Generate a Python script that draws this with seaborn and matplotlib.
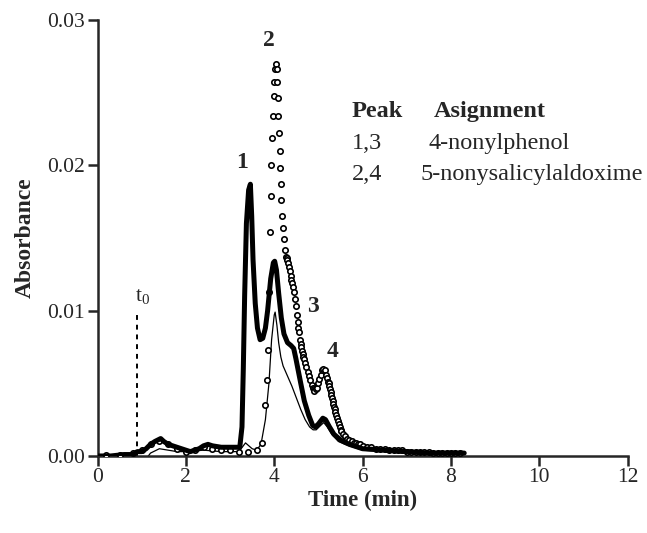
import pandas as pd
import matplotlib
matplotlib.use('Agg')
import matplotlib.pyplot as plt
import seaborn as sns

# ---- data ----
# thick trace
thick_t = [0.0, 0.3, 0.6, 0.8, 0.9, 1.0, 1.1, 1.2, 1.3, 1.43, 1.5, 1.6, 1.7, 1.8, 1.9, 2.0, 2.1, 2.2,
           2.3, 2.4, 2.5, 2.6, 2.8, 3.0, 3.1, 3.22, 3.27, 3.30, 3.33, 3.37, 3.42, 3.46, 3.49, 3.52,
           3.57, 3.62, 3.68, 3.74, 3.80, 3.85, 3.92, 3.98, 4.01, 4.05, 4.10, 4.16, 4.22, 4.30, 4.38,
           4.44, 4.49, 4.60, 4.68, 4.78, 4.87, 4.93, 5.00, 5.10, 5.16, 5.25, 5.35, 5.50, 5.70, 6.00,
           6.50, 7.00, 7.50, 8.00, 8.30]
thick_y = [0.0000, 0.0000, 0.0001, 0.0001, 0.0003, 0.0003, 0.0005, 0.0008, 0.0010, 0.0012, 0.0010,
           0.0008, 0.0007, 0.0006, 0.0005, 0.0004, 0.0003, 0.0004, 0.0005, 0.0007, 0.0008, 0.0007,
           0.0006, 0.0006, 0.0006, 0.0006, 0.0020, 0.0060, 0.0110, 0.0160, 0.0183, 0.0187, 0.0165,
           0.0135, 0.0105, 0.0088, 0.0080, 0.0081, 0.0088, 0.0100, 0.0122, 0.0133, 0.0134, 0.0128,
           0.0112, 0.0095, 0.0084, 0.0078, 0.0076, 0.0074, 0.0067, 0.0050, 0.0038, 0.0028, 0.0021,
           0.0020, 0.0022, 0.0026, 0.0025, 0.0020, 0.0015, 0.0011, 0.0008, 0.0005, 0.0004, 0.0003,
           0.0002, 0.0002, 0.0002]

# thin trace
thin_t = [0.0, 0.5, 0.9, 1.0, 1.05, 1.1, 1.2, 1.4, 1.6, 1.8, 2.0, 2.4, 2.8, 3.2, 3.35, 3.5, 3.6, 3.7,
          3.8, 3.88, 3.94, 4.00, 4.02, 4.06, 4.10, 4.15, 4.20, 4.30, 4.40, 4.50, 4.60, 4.70, 4.80,
          4.88, 4.95, 5.05, 5.12, 5.20, 5.30, 5.45, 5.60, 5.80, 6.00, 6.50, 7.00, 8.20]
thin_y = [0.0000, 0.0000, 0.0000, -0.0003, -0.0006, -0.0002, 0.0002, 0.0005, 0.0004, 0.0003, 0.0003,
          0.0004, 0.0003, 0.0003, 0.0009, 0.0005, 0.0004, 0.0008, 0.0025, 0.0050, 0.0080, 0.0097,
          0.0099, 0.0090, 0.0078, 0.0068, 0.0062, 0.0055, 0.0048, 0.0040, 0.0032, 0.0025, 0.0020,
          0.0018, 0.0018, 0.0021, 0.0023, 0.0020, 0.0015, 0.0010, 0.0008, 0.0006, 0.0004, 0.0003,
          0.0002, 0.0001]

# open-circle trace
dot_t = [0.2, 0.5, 0.8, 1.0, 1.2, 1.4, 1.6, 1.8, 2.0, 2.2, 2.4, 2.6, 2.8, 3.0, 3.2, 3.4, 3.6, 3.72,
         3.80, 3.84, 3.87, 3.89, 3.90, 3.92, 3.935, 3.95, 3.97, 3.99, 4.00, 4.02, 4.04, 4.06, 4.07,
         4.08, 4.09, 4.10, 4.12, 4.13, 4.15, 4.16, 4.18, 4.20, 4.22, 4.24, 4.26, 4.28, 4.30, 4.315,
         4.33, 4.35, 4.37, 4.39, 4.41, 4.43, 4.45, 4.47, 4.49, 4.51, 4.53, 4.545, 4.56, 4.58, 4.595,
         4.61, 4.625, 4.64, 4.655, 4.67, 4.70, 4.73, 4.76, 4.79, 4.82, 4.85, 4.87, 4.89, 4.91, 4.94,
         4.96, 4.99, 5.02, 5.05, 5.07, 5.10, 5.14, 5.17, 5.19, 5.22, 5.235, 5.25, 5.265, 5.28, 5.295,
         5.31, 5.325, 5.34, 5.355, 5.37, 5.385, 5.40, 5.42, 5.44, 5.46, 5.48, 5.50, 5.52, 5.56, 5.60,
         5.65, 5.70, 5.75, 5.80, 5.85, 5.90, 5.95, 6.00, 6.10, 6.20, 6.30, 6.40, 6.50, 6.60, 6.70,
         6.80, 6.90, 7.00, 7.10, 7.20, 7.30, 7.40, 7.50, 7.60, 7.70, 7.80, 7.90, 8.00, 8.10, 8.20]
dot_y = [0.0001, 0.0001, 0.0002, 0.0004, 0.0008, 0.0010, 0.0008, 0.0005, 0.0003, 0.0004, 0.0006,
         0.0005, 0.0004, 0.0004, 0.0003, 0.0003, 0.0004, 0.0009, 0.0035, 0.0052, 0.0073, 0.0113,
         0.0154, 0.0179, 0.0200, 0.0219, 0.0234, 0.0248, 0.0257, 0.0266, 0.0270, 0.0266, 0.0257,
         0.0246, 0.0234, 0.0222, 0.0210, 0.0198, 0.0187, 0.0176, 0.0165, 0.0157, 0.0149, 0.0142,
         0.0137, 0.0136, 0.0135, 0.0133, 0.0130, 0.0127, 0.0124, 0.0121, 0.0119, 0.0116, 0.0113,
         0.0108, 0.0103, 0.0097, 0.0092, 0.0088, 0.0085, 0.0080, 0.0077, 0.0075, 0.0072, 0.0070,
         0.0068, 0.0067, 0.0064, 0.0061, 0.0058, 0.0055, 0.0052, 0.0049, 0.0047, 0.0046, 0.0045,
         0.0046, 0.0047, 0.0050, 0.0053, 0.0056, 0.0059, 0.0060, 0.0059, 0.0056, 0.0054, 0.0051,
         0.0050, 0.0048, 0.0046, 0.0044, 0.0042, 0.0040, 0.0038, 0.0036, 0.0034, 0.0032, 0.0030,
         0.0028, 0.0026, 0.0024, 0.0022, 0.0020, 0.0018, 0.0017, 0.0015, 0.0014, 0.0012, 0.0011,
         0.0010, 0.0009, 0.0009, 0.0008, 0.0008, 0.0007, 0.0006, 0.0006, 0.0005, 0.0005, 0.0005,
         0.0004, 0.0004, 0.0004, 0.0004, 0.0003, 0.0003, 0.0003, 0.0003, 0.0003, 0.0003, 0.0002,
         0.0002, 0.0002, 0.0002, 0.0002, 0.0002, 0.0002]

# t0 marker and peak numbers
t0_time = 0.9
t0_top = 0.0099
peak_names = ['1', '2', '3', '4']
peak_x = [3.28, 3.87, 4.88, 5.31]
peak_y = [0.0202, 0.0286, 0.0103, 0.0072]

legend_rows = [('1,3', '4-nonylphenol'), ('2,4', '5-nonysalicylaldoxime')]

thick_df = pd.DataFrame({'t': thick_t, 'A': thick_y})
thin_df = pd.DataFrame({'t': thin_t, 'A': thin_y})
dot_df = pd.DataFrame({'t': dot_t, 'A': dot_y})

# ---- plot ----
sns.set_style('ticks')
plt.rcParams['font.family'] = ['Liberation Serif', 'DejaVu Serif']
plt.rcParams['mathtext.fontset'] = 'custom'
plt.rcParams['mathtext.rm'] = 'Liberation Serif'
plt.rcParams['mathtext.it'] = 'Liberation Serif'

fig = plt.figure(figsize=(6.47, 5.33), dpi=100)
ax = fig.add_axes([0.1507, 0.1445, 0.8195, 0.818])

sns.lineplot(data=thin_df, x='t', y='A', color='black', linewidth=0.9, sort=False, ax=ax, zorder=2)
sns.scatterplot(data=dot_df, x='t', y='A', marker='o', s=15, facecolor='white',
                edgecolor='black', linewidth=1.2, ax=ax, zorder=3)
sns.lineplot(data=thick_df, x='t', y='A', color='black', linewidth=3.6, sort=False, ax=ax, zorder=4)

# t0 dashed marker
ax.plot([t0_time, t0_time], [0, t0_top], color='black', linewidth=1.4,
        linestyle=(0, (2.5, 2.5)), zorder=1)
ax.text(t0_time - 0.05, t0_top + 0.0004, r'$\mathregular{t_0}$', fontsize=15.5,
        ha='left', va='bottom')

for name, px, py in zip(peak_names, peak_x, peak_y):
    ax.text(px, py, name, fontsize=17, fontweight='bold', ha='center', va='center')

# legend table
ax.text(5.75, 0.0237, 'Peak', fontsize=17.5, fontweight='bold', ha='left', va='center')
ax.text(7.6, 0.0237, 'Asignment', fontsize=17.5, fontweight='bold', ha='left', va='center')
ax.text(5.75, 0.0215, legend_rows[0][0], fontsize=17.5, ha='left', va='center')
ax.text(7.5, 0.0215, legend_rows[0][1], fontsize=17.5, ha='left', va='center')
ax.text(5.75, 0.0194, legend_rows[1][0], fontsize=17.5, ha='left', va='center')
ax.text(7.3, 0.0194, legend_rows[1][1], fontsize=17.5, ha='left', va='center')

ax.set_xlim(0, 12)
ax.set_ylim(0, 0.03)
ax.set_xticks(range(0, 13, 2))
ax.set_yticks([0.0, 0.01, 0.02, 0.03])
ax.set_yticklabels(['0.00', '0.01', '0.02', '0.03'])
ax.tick_params(axis='both', labelsize=15.5, width=1.8, length=7, direction='out', pad=2)
ax.set_xlabel('Time (min)', fontsize=16.5, fontweight='bold', labelpad=2)
ax.set_ylabel('Absorbance', fontsize=17, fontweight='bold', labelpad=8)
sns.despine(ax=ax)
for sp in ['left', 'bottom']:
    ax.spines[sp].set_linewidth(1.8)
ax.grid(False)

plt.savefig('out.png', dpi=100)
